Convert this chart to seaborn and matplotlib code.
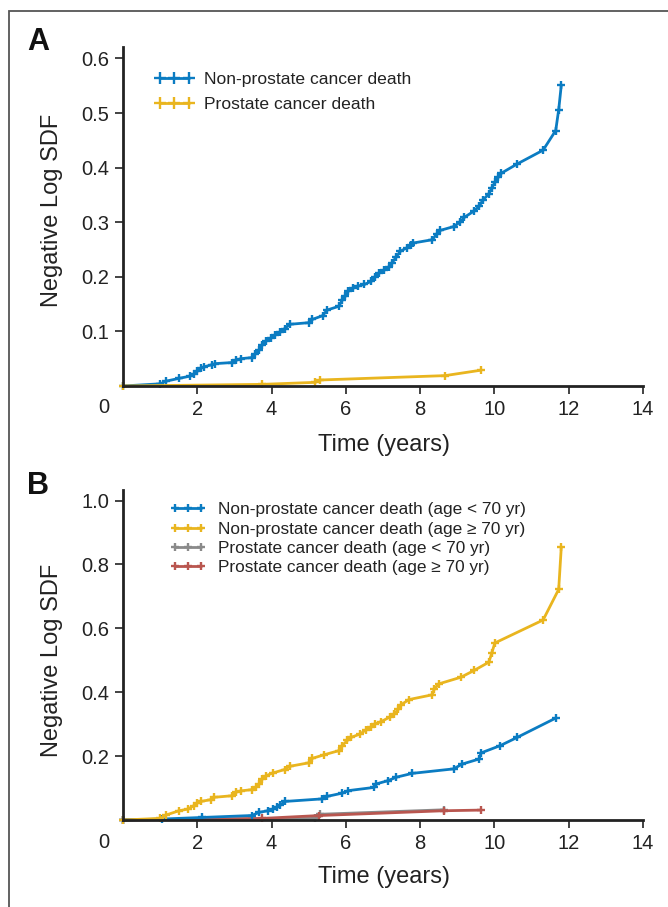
import numpy as np
import pandas as pd
import matplotlib
matplotlib.use("Agg")
import matplotlib.pyplot as plt
from matplotlib.lines import Line2D
from matplotlib.patches import Rectangle
import seaborn as sns

# ---------------- data ----------------
# Panel A
a_npcd_t = [0, 1.0, 1.17, 1.51, 1.8, 1.91, 2.0, 2.1, 2.18, 2.39, 2.49, 2.94, 3.04, 3.17, 3.46,
            3.55, 3.67, 3.75, 3.86, 3.98, 4.09, 4.24, 4.35, 4.49, 5.0, 5.1, 5.38, 5.49, 5.81,
            5.9, 5.98, 6.07, 6.19, 6.32, 6.5, 6.69, 6.78, 6.9, 7.03, 7.15, 7.24, 7.35, 7.47,
            7.64, 7.76, 7.82, 8.33, 8.45, 8.54, 8.9, 9.07, 9.19, 9.44, 9.59, 9.68, 9.85, 9.93,
            10.01, 10.1, 10.19, 10.62, 11.31, 11.65, 11.73, 11.8]
a_npcd_v = [0, 0.004, 0.009, 0.014, 0.018, 0.022, 0.027, 0.033, 0.035, 0.039, 0.041, 0.043,
            0.047, 0.05, 0.052, 0.058, 0.066, 0.075, 0.083, 0.088, 0.093, 0.099, 0.105, 0.113,
            0.116, 0.122, 0.129, 0.139, 0.146, 0.157, 0.164, 0.174, 0.179, 0.183, 0.186, 0.192,
            0.2, 0.207, 0.212, 0.218, 0.225, 0.236, 0.247, 0.253, 0.259, 0.262, 0.268, 0.279,
            0.285, 0.292, 0.3, 0.309, 0.32, 0.329, 0.34, 0.352, 0.363, 0.373, 0.382, 0.39,
            0.407, 0.432, 0.468, 0.506, 0.551]
a_pcd_t = [0, 3.75, 5.18, 5.31, 8.67, 9.64]
a_pcd_v = [0, 0.003, 0.0067, 0.011, 0.019, 0.029]

# Panel B
b_np_young_t = [0, 1.05, 2.14, 3.46, 3.67, 3.9, 4.03, 4.15, 4.24, 4.35, 5.35, 5.5, 5.9, 6.07,
                6.76, 6.82, 7.13, 7.36, 7.79, 8.9, 9.13, 9.59, 9.64, 10.16, 10.62, 11.65]
b_np_young_v = [0, 0.003, 0.008, 0.014, 0.024, 0.029, 0.034, 0.04, 0.047, 0.058, 0.066, 0.074,
                0.084, 0.092, 0.102, 0.113, 0.123, 0.134, 0.146, 0.16, 0.175, 0.191, 0.21,
                0.233, 0.259, 0.319]
b_np_old_t = [0, 1.0, 1.17, 1.51, 1.74, 1.91, 2.0, 2.1, 2.37, 2.45, 2.94, 3.04, 3.17, 3.46,
              3.57, 3.67, 3.75, 3.86, 4.03, 4.35, 4.49, 5.0, 5.1, 5.41, 5.81, 5.9, 6.04, 6.15,
              6.38, 6.55, 6.69, 6.78, 6.95, 7.18, 7.3, 7.41, 7.49, 7.7, 8.33, 8.38, 8.5, 9.1,
              9.45, 9.85, 9.93, 10.01, 11.31, 11.73, 11.8]
b_np_old_v = [0, 0.005, 0.016, 0.029, 0.034, 0.045, 0.053, 0.058, 0.064, 0.071, 0.076, 0.087,
              0.091, 0.095, 0.102, 0.113, 0.128, 0.139, 0.147, 0.158, 0.168, 0.179, 0.193,
              0.204, 0.217, 0.233, 0.249, 0.259, 0.269, 0.283, 0.292, 0.301, 0.308, 0.322,
              0.332, 0.346, 0.361, 0.377, 0.392, 0.41, 0.426, 0.447, 0.468, 0.494, 0.523,
              0.554, 0.626, 0.722, 0.854]
b_pc_young_t = [0, 5.18, 5.31, 8.65]
b_pc_young_v = [0, 0.005, 0.018, 0.032]
b_pc_old_t = [0, 3.75, 5.29, 8.65, 9.64]
b_pc_old_v = [0, 0.005, 0.014, 0.029, 0.031]

labels_a = ["Non-prostate cancer death", "Prostate cancer death"]
labels_b = ["Non-prostate cancer death (age < 70 yr)",
            "Non-prostate cancer death (age \u2265 70 yr)",
            "Prostate cancer death (age < 70 yr)",
            "Prostate cancer death (age \u2265 70 yr)"]
x_ticks = [2, 4, 6, 8, 10, 12, 14]
a_yticks = [0.1, 0.2, 0.3, 0.4, 0.5, 0.6]
b_yticks = [0.2, 0.4, 0.6, 0.8, 1.0]

BLUE = "#0b7cc2"
YELLOW = "#e9b51f"
GREY = "#8a8a8a"
RED = "#b9564f"

df_a = pd.concat([
    pd.DataFrame({"t": a_npcd_t, "v": a_npcd_v, "s": labels_a[0]}),
    pd.DataFrame({"t": a_pcd_t, "v": a_pcd_v, "s": labels_a[1]}),
], ignore_index=True)
df_b = pd.concat([
    pd.DataFrame({"t": b_pc_young_t, "v": b_pc_young_v, "s": labels_b[2]}),
    pd.DataFrame({"t": b_pc_old_t, "v": b_pc_old_v, "s": labels_b[3]}),
    pd.DataFrame({"t": b_np_young_t, "v": b_np_young_v, "s": labels_b[0]}),
    pd.DataFrame({"t": b_np_old_t, "v": b_np_old_v, "s": labels_b[1]}),
], ignore_index=True)

sns.set_style("ticks")
plt.rcParams["font.family"] = ["Liberation Sans", "DejaVu Sans"]

W, H = 668, 907
fig = plt.figure(figsize=(W / 100, H / 100), dpi=100)

# outer frame
fig.patches.append(Rectangle((9 / W, -0.1), 1.2, 1 - 11 / H + 0.1, transform=fig.transFigure,
                             fill=False, edgecolor="#555555", linewidth=1.3))

axA = fig.add_axes([123 / W, 1 - 386 / H, 520 / W, 339 / H])
axB = fig.add_axes([123 / W, 1 - 820 / H, 520 / W, 330 / H])

palA = {labels_a[0]: BLUE, labels_a[1]: YELLOW}
palB = {labels_b[0]: BLUE, labels_b[1]: YELLOW, labels_b[2]: GREY, labels_b[3]: RED}

mk = dict(marker="+", markersize=5.5, markeredgewidth=1.7, linewidth=2, clip_on=False)

sns.lineplot(data=df_a, x="t", y="v", hue="s", palette=palA, estimator=None, sort=True,
             legend=False, ax=axA, **mk)
sns.lineplot(data=df_b, x="t", y="v", hue="s", palette=palB, estimator=None, sort=True,
             legend=False, ax=axB, **mk)
for ax in (axA, axB):
    for ln in ax.get_lines():
        ln.set_markeredgecolor(ln.get_color())
        ln.set_markerfacecolor(ln.get_color())

def style_axis(ax, ymax, yticks, ylabel_y, xlabel_y, zero_y):
    ax.set_xlim(0, 14)
    ax.set_ylim(0, ymax)
    ax.set_xticks(x_ticks)
    ax.set_xticklabels([str(t) for t in x_ticks])
    ax.set_yticks(yticks)
    ax.set_yticklabels([f"{t:.1f}" for t in yticks])
    for s in ["top", "right"]:
        ax.spines[s].set_visible(False)
    for s in ["left", "bottom"]:
        ax.spines[s].set_linewidth(2)
        ax.spines[s].set_color("#222222")
    ax.tick_params(axis="both", direction="out", length=6, width=1.2, color="#222222",
                   labelsize=14.5, labelcolor="#222222", pad=4)
    ax.set_xlabel("")
    ax.set_ylabel("")
    fig.text(384 / W, 1 - xlabel_y / H, "Time (years)", ha="center", va="center",
             fontsize=17, color="#222222")
    fig.text(52 / W, 1 - ylabel_y / H, "Negative Log SDF", ha="center", va="center",
             rotation=90, fontsize=17, color="#222222")
    fig.text(104 / W, 1 - zero_y / H, "0", ha="center", va="center",
             fontsize=14.5, color="#222222")

style_axis(axA, 0.621, a_yticks, 210, 445, 407)
style_axis(axB, 1.033, b_yticks, 660, 877, 842)

fig.text(38 / W, 1 - 42 / H, "A", ha="center", va="center", fontsize=22,
         fontweight="bold", color="#111111")
fig.text(38 / W, 1 - 486 / H, "B", ha="center", va="center", fontsize=22,
         fontweight="bold", color="#111111")

def handles(labels, pal, ms):
    return [Line2D([0], [0], color=pal[l], marker="+", markersize=ms, markeredgewidth=1.7,
                   linewidth=2) for l in labels]

legA = axA.legend(handles(labels_a, palA, 8), labels_a, loc="upper left",
                  bbox_to_anchor=(0.03, 0.972), frameon=False, numpoints=3,
                  handlelength=2.3, handletextpad=0.55, labelspacing=0.55,
                  prop={"size": 12.6})
legB = axB.legend(handles(labels_b, palB, 5.5), labels_b, loc="upper left",
                  bbox_to_anchor=(0.06, 1.01), frameon=False, numpoints=3,
                  handlelength=2.1, handletextpad=0.7, labelspacing=0.25,
                  prop={"size": 12.4})
for leg in (legA, legB):
    for t in leg.get_texts():
        t.set_color("#222222")

fig.savefig("out.png", dpi=100)
